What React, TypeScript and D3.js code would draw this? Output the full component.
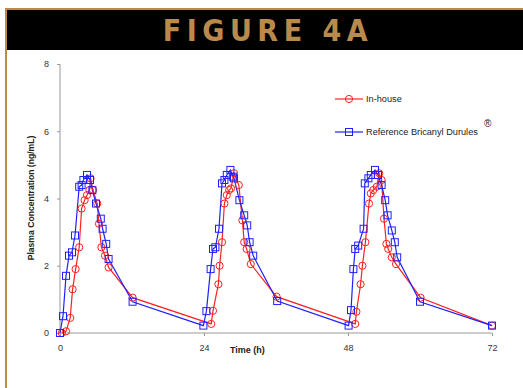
import { useEffect, useRef } from "react";
import * as d3 from "d3";

const W = 523;
const H = 388;
const MARGIN = { top: 64, right: 31, bottom: 55, left: 60 };

// Reference Bricanyl Durules (blue squares)
const refTime = [
  0, 0.5, 1, 1.5, 2, 2.5, 3.2, 3.6, 3.9, 4.5, 5, 5.4, 6, 6.8, 7.1, 7.7, 8.1, 12.1,
  23.9, 24.4, 25.1, 25.5, 25.9, 26.5, 27, 27.4, 27.8, 28.4, 28.8, 29, 29.9, 30.7, 31.2, 31.6, 32.2, 36.2,
  48.1, 48.5, 48.9, 49.2, 49.7, 50.6, 50.8, 51.4, 51.8, 52.5, 53, 53.6, 54.2, 54.6, 55.3, 55.8, 56.2, 60,
  72,
];
const refConc = [
  0, 0.5, 1.7, 2.3, 2.4, 2.9, 4.35, 4.4, 4.55, 4.7, 4.55, 4.25, 3.85, 3.4, 3.1, 2.65, 2.2, 0.93,
  0.22, 0.65, 1.9, 2.5, 2.55, 3.1, 4.45, 4.55, 4.7, 4.85, 4.65, 4.6, 3.95, 3.5, 3.2, 2.7, 2.3, 0.95,
  0.22, 0.68, 1.9, 2.5, 2.6, 3.1, 4.45, 4.6, 4.7, 4.85, 4.7, 4.4, 3.95, 3.5, 3.05, 2.7, 2.25, 0.93,
  0.22,
];

// In-house (red circles)
const inTime = [
  0.3, 1, 1.7, 2.1, 2.6, 3.2, 3.6, 4.1, 4.5, 4.9, 5.1, 5.5, 6.2, 6.5, 6.9, 7.5, 8.1, 12.1,
  25.2, 25.5, 26.4, 26.6, 27, 27.4, 27.8, 28.2, 28.5, 29, 29.8, 30.4, 30.7, 31.1, 31.8, 36.1,
  49.2, 49.4, 50.1, 50.4, 50.9, 51.5, 51.8, 52.2, 52.8, 53.2, 53.6, 54, 54.4, 54.7, 55.3, 56, 60.1,
  72,
];
const inConc = [
  0, 0.05, 0.45, 1.3, 1.9, 2.55, 3.7, 3.95, 4.1, 4.25, 4.6, 4.25, 3.85, 3.25, 2.55, 2.3, 1.95, 1.05,
  0.27, 0.66, 1.45, 2.0, 2.7, 3.85, 4.1, 4.25, 4.3, 4.75, 4.4, 3.35, 2.7, 2.5, 2.05, 1.08,
  0.27, 0.63, 1.45, 2.0, 2.7, 3.85, 4.15, 4.25, 4.35, 4.75, 4.55, 3.4, 2.65, 2.5, 2.25, 2.05, 1.05,
  0.22,
];

const xTicks = [0, 24, 48, 72];
const yTicks = [0, 2, 4, 6, 8];

const TAN = "#b98a4c";
const RED = "#ff2020";
const BLUE = "#2020ff";
const FONT = "'Liberation Sans', Arial, sans-serif";

const App = () => {
  const ref = useRef<SVGSVGElement>(null);

  useEffect(() => {
    const svg = d3.select(ref.current);
    svg.selectAll("*").remove();

    // frame + banner
    svg.append("rect").attr("x", 5).attr("y", 8).attr("width", W - 5).attr("height", 2).attr("fill", TAN);
    svg.append("rect").attr("x", 5).attr("y", 8).attr("width", 2).attr("height", H - 8).attr("fill", TAN);
    svg.append("rect").attr("x", 7).attr("y", 10).attr("width", W - 7).attr("height", 40).attr("fill", "#000");
    svg
      .append("text")
      .attr("x", 268)
      .attr("y", 41)
      .attr("text-anchor", "middle")
      .attr("font-family", "'DejaVu Sans Condensed', 'DejaVu Sans', sans-serif")
      .attr("font-stretch", "condensed")
      .attr("font-weight", "bold")
      .attr("font-size", 30)
      .attr("letter-spacing", 5.5)
      .attr("fill", TAN)
      .text("FIGURE 4A");

    const x = d3.scaleLinear().domain([0, 72]).range([MARGIN.left, W - MARGIN.right]);
    const y = d3.scaleLinear().domain([0, 8]).range([H - MARGIN.bottom, MARGIN.top]);

    // axes
    const xAxis = svg
      .append("g")
      .attr("transform", `translate(0, ${y(0)})`)
      .call(d3.axisBottom(x).tickValues(xTicks).tickSize(3).tickPadding(9));
    const yAxis = svg
      .append("g")
      .attr("transform", `translate(${x(0)}, 0)`)
      .call(d3.axisLeft(y).tickValues(yTicks).tickSize(3).tickPadding(8));
    [xAxis, yAxis].forEach((g) => {
      g.select(".domain").attr("stroke", "#999").attr("stroke-width", 1);
      g.selectAll(".tick line").attr("stroke", "#999");
      g.selectAll(".tick text").attr("font-family", FONT).attr("font-size", 9).attr("fill", "#333");
    });
    xAxis.select(".domain").attr("d", `M${x(0)},0H${x(72)}`);
    yAxis.select(".domain").attr("d", `M0,${y(8)}V${y(0)}`);

    svg
      .append("text")
      .attr("x", 230)
      .attr("y", 353)
      .attr("font-family", FONT)
      .attr("font-weight", "bold")
      .attr("font-size", 9)
      .attr("fill", "#222")
      .text("Time (h)");

    svg
      .append("text")
      .attr("transform", `translate(34, 198) rotate(-90)`)
      .attr("text-anchor", "middle")
      .attr("font-family", FONT)
      .attr("font-weight", "bold")
      .attr("font-size", 8.6)
      .attr("fill", "#222")
      .text("Plasma Concentration (ng/mL)");

    const line = d3
      .line<[number, number]>()
      .x((d) => x(d[0]))
      .y((d) => y(d[1]));

    const refData = refTime.map((t, i) => [t, refConc[i]] as [number, number]);
    const inData = inTime.map((t, i) => [t, inConc[i]] as [number, number]);

    const plot = svg.append("g");
    plot.append("path").datum(inData).attr("d", line).attr("fill", "none").attr("stroke", RED).attr("stroke-width", 1.2);
    plot.append("path").datum(refData).attr("d", line).attr("fill", "none").attr("stroke", BLUE).attr("stroke-width", 1.2);

    plot
      .selectAll(".c")
      .data(inData)
      .join("circle")
      .attr("cx", (d) => x(d[0]))
      .attr("cy", (d) => y(d[1]))
      .attr("r", 3.6)
      .attr("fill", "none")
      .attr("stroke", RED)
      .attr("stroke-width", 1);
    plot
      .selectAll(".s")
      .data(refData)
      .join("rect")
      .attr("x", (d) => x(d[0]) - 3.5)
      .attr("y", (d) => y(d[1]) - 3.5)
      .attr("width", 7)
      .attr("height", 7)
      .attr("fill", "none")
      .attr("stroke", BLUE)
      .attr("stroke-width", 1);

    // legend
    const legend = svg.append("g").attr("font-family", FONT).attr("font-size", 9.2).attr("fill", "#222");
    legend.append("line").attr("x1", 335).attr("x2", 363).attr("y1", 99).attr("y2", 99).attr("stroke", RED).attr("stroke-width", 1.2);
    legend.append("circle").attr("cx", 349).attr("cy", 99).attr("r", 3.6).attr("fill", "none").attr("stroke", RED);
    legend.append("text").attr("x", 366).attr("y", 102).text("In-house");
    legend.append("line").attr("x1", 335).attr("x2", 363).attr("y1", 132).attr("y2", 132).attr("stroke", BLUE).attr("stroke-width", 1.2);
    legend.append("rect").attr("x", 345.5).attr("y", 128.5).attr("width", 7).attr("height", 7).attr("fill", "none").attr("stroke", BLUE);
    legend.append("text").attr("x", 366).attr("y", 135).text("Reference Bricanyl Durules");
    legend.append("text").attr("x", 484).attr("y", 127).attr("font-size", 10).text("®");
  }, []);

  return (
    <svg
      ref={ref}
      width={W}
      height={H}
      style={{ position: "absolute", left: 0, top: 0, background: "#fff" }}
    ></svg>
  );
};

export default App;
